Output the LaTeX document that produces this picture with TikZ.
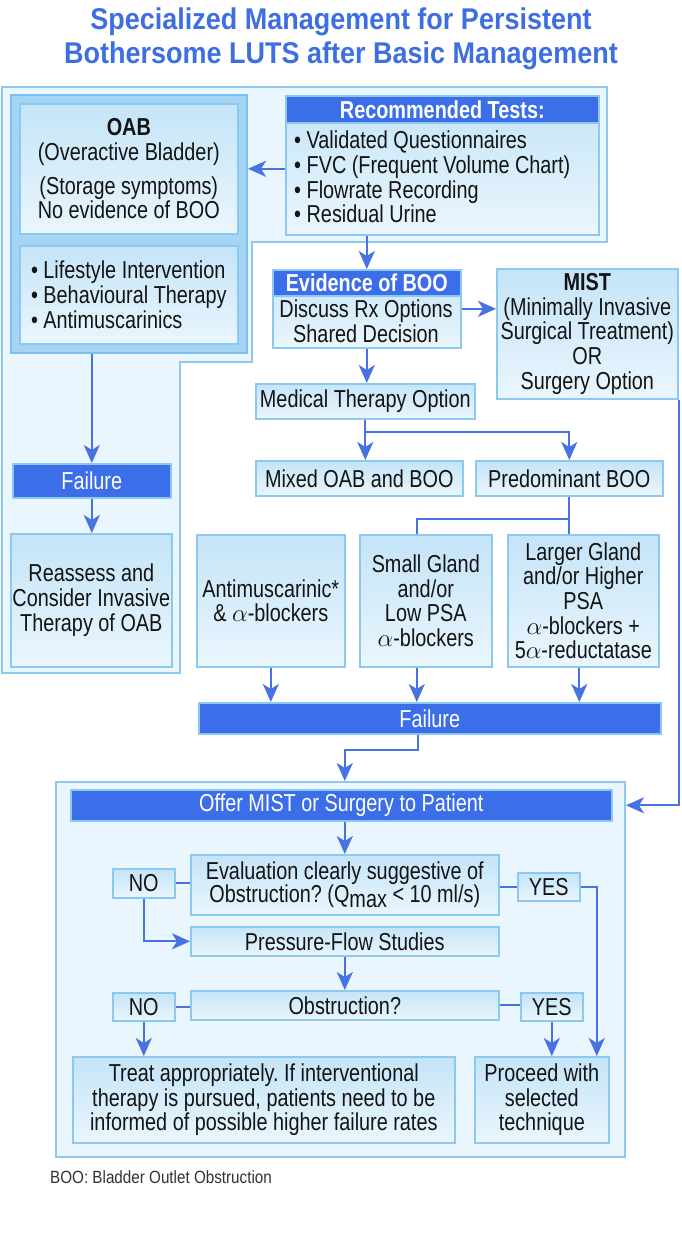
\documentclass[tikz,border=0pt]{standalone}
\usepackage{fontspec}
\setmainfont{Liberation Sans}[FakeStretch=0.81]
\newfontfamily\ttlfont{Liberation Sans}[FakeStretch=0.9]
\newfontfamily\ftfont{Liberation Sans}[FakeStretch=0.86]
\usetikzlibrary{arrows.meta}
\frenchspacing
\definecolor{titleblue}{RGB}{62,111,224}
\definecolor{hdrblue}{RGB}{59,110,232}
\definecolor{arrblue}{RGB}{70,115,225}
\definecolor{boxborder}{RGB}{140,200,240}
\definecolor{boxtop}{RGB}{196,228,248}
\definecolor{boxbot}{RGB}{234,246,253}
\definecolor{panelfill}{RGB}{234,246,253}
\definecolor{panelborder}{RGB}{140,200,240}
\definecolor{grpfill}{RGB}{165,213,244}
\definecolor{grpborder}{RGB}{128,190,238}
\definecolor{txtcol}{RGB}{20,20,20}
\definecolor{footcol}{RGB}{50,50,50}
\newcommand{\bfnt}{\fontsize{24.5}{24.7}\selectfont}
\newcommand{\mybox}[6][box]{\node[#1, anchor=north west, minimum width={#4-#2}, minimum height={#5-#3}] (#6) at (#2,#3)}
\tikzset{
  box/.style={draw=boxborder, line width=1.6pt, top color=boxtop, bottom color=boxbot, inner sep=0pt, align=center, text=txtcol, font=\bfnt},
  hdr/.style={draw=boxborder, line width=1.6pt, fill=hdrblue, inner sep=0pt, align=center, text=white, font=\bfnt},
  grp/.style={draw=grpborder, line width=2pt, fill=grpfill, inner sep=0pt},
  panelbox/.style={draw=panelborder, line width=2pt, fill=panelfill, inner sep=0pt},
  txt/.style={inner sep=0pt, text=txtcol, font=\bfnt},
  con/.style={draw=arrblue, line width=2.2pt},
  arr/.style={con, -{Stealth[length=18pt,width=16pt,inset=5pt]}},
}
\begin{document}
\begin{tikzpicture}[x=1pt,y=-1pt]
\useasboundingbox (0,0) rectangle (682,1235);
\fill[white] (0,0) rectangle (682,1235);
% title
\node[anchor=base, inner sep=0pt, text=titleblue, font={\ttlfont\bfseries\fontsize{30}{34}\selectfont}] (t1) at (341,29) {Specialized Management for Persistent};
\node[anchor=base, inner sep=0pt, text=titleblue, font={\ttlfont\bfseries\fontsize{30}{34}\selectfont}] (t2) at (341,63) {Bothersome LUTS after Basic Management};
% background panel
\draw[draw=panelborder, line width=2pt, fill=panelfill] (2,87) -- (607,87) -- (607,242) -- (252,242) -- (252,362) -- (180,362) -- (180,673) -- (2,673) -- cycle;
% OAB group
\mybox[grp]{10}{94}{246}{352}{oabg}{};
\mybox{19}{103}{237}{233}{oab}{\textbf{OAB}\\(Overactive Bladder)\\[9pt](Storage symptoms)\\No evidence of BOO};
\mybox[box,align=left]{19}{245}{237}{343}{oablist}{• Lifestyle Intervention\\• Behavioural Therapy\\• Antimuscarinics};
% tests
\mybox{285}{95}{598}{234}{tests}{};
\mybox[hdr]{285}{95}{598}{122}{testsh}{\bfseries Recommended Tests:};
\node[txt, anchor=west, align=left] (testsl) at (294,177) {• Validated Questionnaires\\• FVC (Frequent Volume Chart)\\• Flowrate Recording\\• Residual Urine};
% evidence
\mybox{272}{269}{460}{347}{evid}{};
\mybox[hdr]{272}{269}{460}{295}{evidh}{\bfseries Evidence of BOO};
\node[txt, align=center] (evidt) at (366,321) {Discuss Rx Options\\Shared Decision};
% MIST
\mybox{496}{268}{677}{398}{mist}{\textbf{MIST}\\(Minimally Invasive\\Surgical Treatment)\\OR\\Surgery Option};
% medical
\mybox{255}{383}{474}{418}{med}{Medical Therapy Option};
\mybox{255}{460}{462}{495}{mixed}{Mixed OAB and BOO};
\mybox{475}{460}{662}{495}{pred}{Predominant BOO};
\mybox{196}{534}{344}{666}{anti}{Antimuscarinic*\\\& $\alpha$-blockers};
\mybox{359}{534}{491}{666}{small}{Small Gland\\and/or\\Low PSA\\$\alpha$-blockers};
\mybox{507}{534}{658}{666}{larger}{Larger Gland\\and/or Higher\\PSA\\$\alpha$-blockers +\\5$\alpha$-reductatase};
\mybox[hdr]{198}{702}{660}{733}{fail}{Failure};
% left column
\mybox[hdr]{12}{463}{170}{497}{lfail}{Failure};
\mybox{10}{533}{171}{666}{reass}{Reassess and\\Consider Invasive\\Therapy of OAB};
% offer panel
\mybox[panelbox]{55}{781}{624}{1156}{offerp}{};
\mybox[hdr]{70}{789}{611}{820}{offer}{Offer MIST or Surgery to Patient};
\mybox[box,font={\fontsize{24.5}{23}\selectfont}]{190}{854}{498}{914}{eval}{Evaluation clearly suggestive of\\Obstruction? (Q\raisebox{-0.45ex}{max} < 10 ml/s)};
\mybox{112}{868}{174}{897}{no1}{NO};
\mybox{517}{872}{579}{900}{yes1}{YES};
\mybox{190}{926}{498}{955}{press}{Pressure-Flow Studies};
\mybox{190}{990}{498}{1019}{obst}{Obstruction?};
\mybox{112}{992}{174}{1020}{no2}{NO};
\mybox{520}{992}{582}{1020}{yes2}{YES};
\mybox{72}{1056}{454}{1142}{treat}{Treat appropriately. If interventional\\therapy is pursued, patients need to be\\informed of possible higher failure rates};
\mybox{474}{1056}{608}{1142}{proc}{Proceed with\\selected\\technique};
\node[anchor=base west, inner sep=0pt, text=footcol, font={\ftfont\fontsize{17.7}{20}\selectfont}] (fn) at (50,1183) {BOO: Bladder Outlet Obstruction};
% connectors
\draw[arr] ([yshift=-3.5pt]tests.west) -- ([yshift=-3.5pt]tests.west -| oabg.east);
\draw[arr] (tests.south -| evid.north) -- (evid.north);
\draw[arr] (evid.east) -- (evid.east -| mist.west);
\draw[arr] (evid.south) -- (evid.south |- med.north);
\draw[arr] (med.south) -- (med.south |- mixed.north);
\draw[con] (med.south) -- ++(0,12) coordinate (br1);
\draw[arr] (br1) -| (pred.north);
\draw[con] (pred.south) -- ++(0,22) coordinate (br2) -| ([xshift=-9pt]small.north);
\draw[con] (br2) -- (br2 |- larger.north);
\draw[arr] (anti.south) -- (anti.south |- fail.north);
\draw[arr] ([xshift=-9pt]small.south) -- ([xshift=-9pt]small.south |- fail.north);
\draw[arr] ([xshift=-4pt]larger.south) -- ([xshift=-4pt]larger.south |- fail.north);
\draw[arr] ([xshift=-12pt]fail.south) -- ++(0,15) -| (eval.north |- offerp.north);
\draw[arr] (mist.south east) -- (mist.south east |- offer.east) -- (offerp.east |- offer.east);
\draw[arr] (oabg.south -| lfail.north) -- (lfail.north);
\draw[arr] (lfail.south) -- (lfail.south |- reass.north);
\draw[arr] (offer.south -| eval.north) -- (eval.north);
\draw[con] (no1.east) -- (no1.east -| eval.west);
\draw[con] (eval.east |- yes1.west) -- (yes1.west);
\draw[arr] (yes1.east) -| ([xshift=55pt]proc.north);
\draw[arr] (no1.south) |- (press.west);
\draw[arr] (press.south) -- (obst.north);
\draw[con] (no2.east) -- (no2.east -| obst.west);
\draw[con] (obst.east) -- (obst.east -| yes2.west);
\draw[arr] (no2.south) -- (no2.south |- treat.north);
\draw[arr] (yes2.south) -- (yes2.south |- proc.north);
\end{tikzpicture}
\end{document}
